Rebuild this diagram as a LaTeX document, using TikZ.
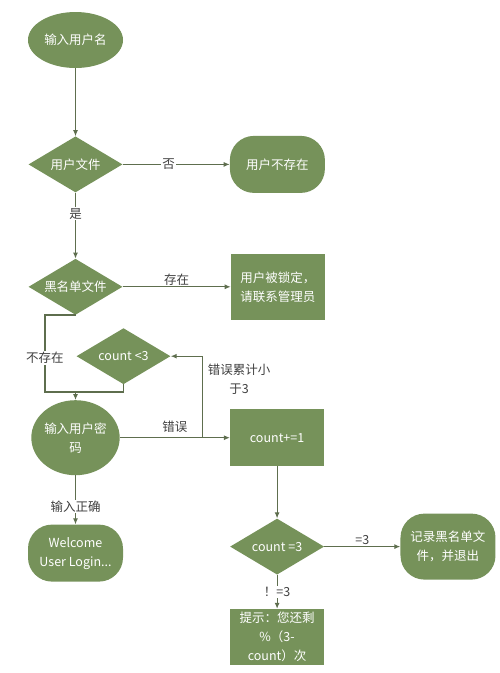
\documentclass[tikz,border=0pt]{standalone}
\usepackage{fontspec}
\setmainfont{Noto Sans CJK SC}
\usetikzlibrary{arrows.meta,positioning,shapes.geometric,calc}
\definecolor{leaf}{RGB}{118,146,90}
\definecolor{wire}{RGB}{94,110,78}
\definecolor{note}{RGB}{64,64,64}

\begin{document}
\begin{tikzpicture}[
  x=1pt,y=-1pt,
  font=\fontsize{12.5}{19}\selectfont,
  base/.style={fill=leaf,text=white,align=center,inner sep=0pt},
  oval/.style={base,ellipse,minimum width=95pt,minimum height=56pt},
  dia/.style={base,diamond,aspect=1.7,minimum width=94pt,minimum height=56pt},
  box/.style={base,rectangle,minimum width=94pt,minimum height=57pt},
  term/.style={base,rectangle,rounded corners=24pt,minimum width=95pt,minimum height=57pt},
  arr/.style={-{Latex[length=6pt,width=5pt]},draw=wire,line width=1.1pt},
  line/.style={draw=wire,line width=1.1pt},
  lbl/.style={text=note,inner sep=1pt},
  cut/.style={lbl,fill=white}
]
  \useasboundingbox (0,0) rectangle (500,673);
  \node[oval] (name) at (75.5,40) {输入用户名};
  \node[dia,below=68pt of name] (ufile) {用户文件};
  \node[term,right=107pt of ufile] (nouser) {用户不存在};
  \node[dia,below=66pt of ufile] (black) {黑名单文件};
  \node[box,minimum height=66pt,right=108pt of black] (locked) {用户被锁定，\\请联系管理员};
  \node[dia,below=13pt of black,xshift=48pt] (less) {count <3};
  \node[oval,minimum width=88pt,minimum height=75pt,below=85pt of black] (pwd) {输入用户密\\码};
  \node[term,below=49pt of pwd] (welcome) {Welcome\\User Login...};
  \node[box,right=110pt of pwd] (cnt) {count+=1};
  \node[dia,below=52pt of cnt] (eq3) {count =3};
  \node[term,minimum height=66pt,right=76pt of eq3] (record) {记录黑名单文\\件，并退出};
  \node[box,minimum height=56pt,below=34pt of eq3] (tip) {提示：您还剩\\\%（3-\\count）次};

  \draw[arr] (name) -- (ufile);
  \draw[arr] (ufile) -- node[cut,pos=0.43] {否} (nouser);
  \draw[arr] (ufile) -- node[cut,pos=0.32] {是} (black);
  \draw[arr] (black) -- node[lbl,above] {存在} (locked);
  \coordinate[above=8pt of pwd.north] (merge);
  \coordinate[left=30.5pt of black.south] (bend);
  \draw[line] (black.south) -- (bend) |- node[cut,pos=0.28] {不存在} (merge);
  \draw[line] (less.south) |- (merge);
  \draw[arr] (merge) -- (pwd);
  \draw[arr] (pwd) -- node[lbl,above=4pt] {错误} (cnt);
  \coordinate (back) at ($(pwd.east)!0.75!(cnt.west)$);
  \draw[arr] (back) |- node[lbl,pos=0.36,right=4pt,align=center] {错误累计小\\于3} (less.east);
  \draw[arr] (pwd) -- node[cut,pos=0.63] {输入正确} (welcome);
  \draw[arr] (cnt) -- (eq3);
  \draw[arr] (eq3) -- node[lbl,above] {=3} (record);
  \draw[arr] (eq3) -- node[cut] {！=3} (tip);
\end{tikzpicture}
\end{document}
